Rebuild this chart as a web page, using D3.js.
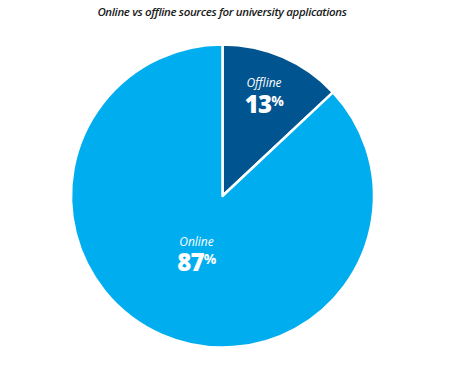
<!DOCTYPE html>
<html><head><meta charset="utf-8">
<script src="https://cdn.jsdelivr.net/npm/d3@7"></script>
<style>body{margin:0;background:#fff;}svg{display:block;}</style>
</head><body>
<script>
const title = "Online vs offline sources for university applications";
const categories = ["Offline", "Online"];
const values = [13, 87];
const colors = ["#00548f", "#00aeef"];

const W = 450, H = 380, cx = 222.5, cy = 196, R = 151.5;
const svg = d3.select("body").append("svg").attr("width", W).attr("height", H);

svg.append("text").attr("x", 222).attr("y", 16).attr("text-anchor", "middle")
  .attr("font-family", "Open Sans, sans-serif").attr("font-style", "italic").attr("font-weight", 600)
  .attr("font-size", 11.5).attr("fill", "#1a1a1a").attr("letter-spacing", -0.35).text(title);

const data = categories.map((c, i) => ({cat: c, val: values[i], color: colors[i]}));
const pie = d3.pie().value(d => d.val).sort(null);
const arcs = pie(data);
const arc = d3.arc().innerRadius(0).outerRadius(R);
const g = svg.append("g").attr("transform", `translate(${cx},${cy})`);
g.selectAll("path").data(arcs).join("path")
  .attr("d", arc).attr("fill", d => d.data.color)
  .attr("stroke", "#fff").attr("stroke-width", 2.5).attr("stroke-linejoin", "round");

const labelPos = [[41.5, -109, 26], [-26, 50, 25]];
arcs.forEach((a, i) => {
  const [lx, ly, gap] = labelPos[i];
  const t = g.append("g").attr("transform", `translate(${lx},${ly})`);
  t.append("text").attr("text-anchor", "middle").attr("y", 0)
    .attr("font-family", "Open Sans, sans-serif").attr("font-style", "italic")
    .attr("font-size", 12).attr("fill", "#fff").text(a.data.cat);
  const num = t.append("text").attr("text-anchor", "middle").attr("y", gap)
    .attr("font-family", "Open Sans, sans-serif").attr("font-weight", 800)
    .attr("fill", "#fff").attr("letter-spacing", -0.8);
  num.append("tspan").attr("font-size", 24).text(a.data.val);
  num.append("tspan").attr("font-size", 14).attr("font-weight", 700).attr("dy", -7).text("%");
});
</script>
</body></html>
